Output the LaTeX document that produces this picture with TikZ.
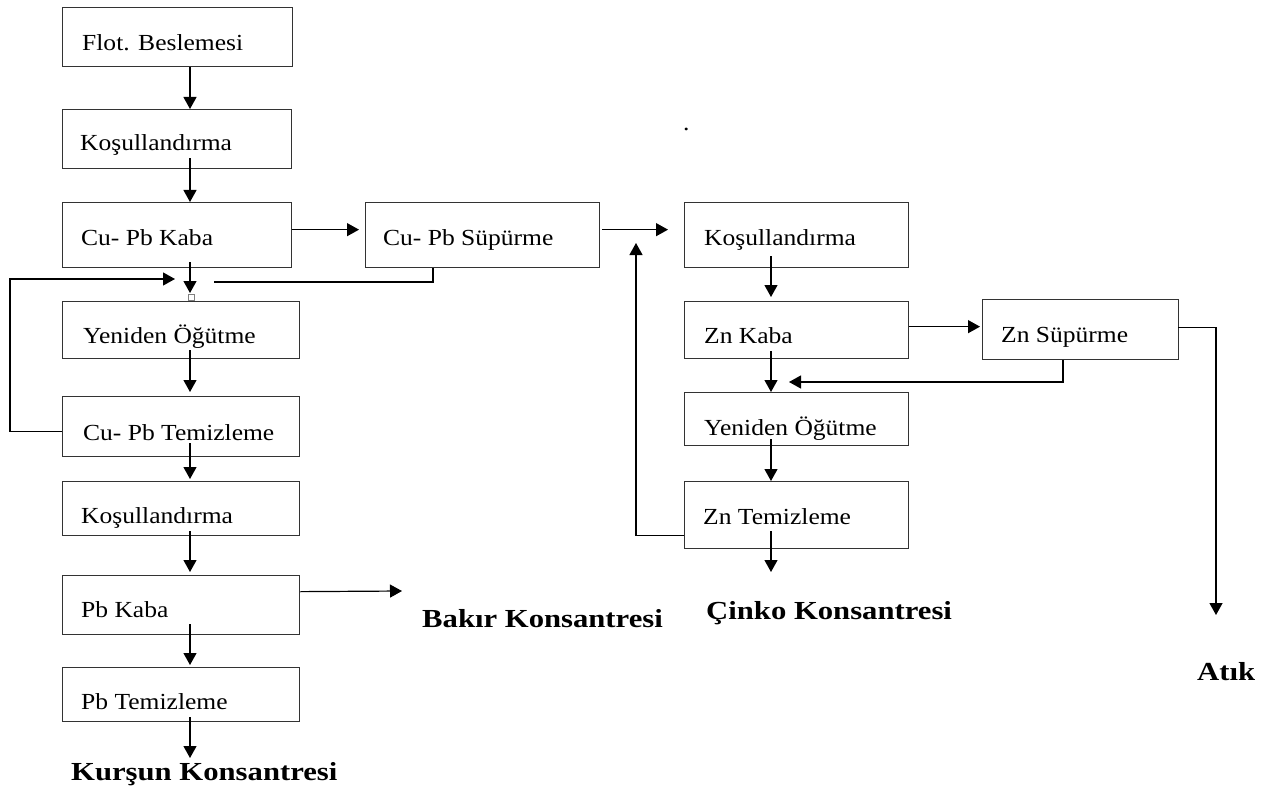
\documentclass[tikz,border=0pt]{standalone}
\usepackage{fontspec}
\setmainfont{Liberation Serif}[FakeStretch=1.11]
\newfontfamily\boldlbl{Liberation Serif}[FakeStretch=1.18]
\usetikzlibrary{arrows.meta,calc}
\begin{document}
\begin{tikzpicture}[x=1pt,y=-1pt,
  pbox/.style={draw=black!80,line width=1.3pt,inner sep=0pt,anchor=north west},
  lbl/.style={anchor=base west,inner sep=0pt,font=\fontsize{23}{26}\selectfont},
  blbl/.style={anchor=base west,inner sep=0pt,font=\boldlbl\bfseries\fontsize{26}{29}\selectfont},
  arr/.style={line width=1.2pt,-{Triangle[length=12pt,width=13pt]}},
  ln/.style={line width=1.2pt},
  sq/.style={draw=gray,fill=white,line width=0.8pt,minimum size=6pt,inner sep=0pt}]
\useasboundingbox (0,0) rectangle (1275,789);
% column guides
\coordinate (L) at (190,0);
\coordinate (R) at (771,0);
% left column boxes
\node[pbox,minimum width=230pt,minimum height=59pt] (flot) at (62,7) {};
\node[pbox,minimum width=229pt,minimum height=59pt] (kos1) at (62,109) {};
\node[pbox,minimum width=229pt,minimum height=65pt] (cpk) at (62,202) {};
\node[pbox,minimum width=234pt,minimum height=65pt] (cps) at (365,202) {};
\node[pbox,minimum width=237pt,minimum height=57pt] (yo1) at (62,301) {};
\node[pbox,minimum width=237pt,minimum height=60pt] (cpt) at (62,396) {};
\node[pbox,minimum width=237pt,minimum height=54pt] (kos2) at (62,481) {};
\node[pbox,minimum width=237pt,minimum height=59pt] (pbk) at (62,575) {};
\node[pbox,minimum width=237pt,minimum height=54pt] (pbt) at (62,667) {};
% right column boxes
\node[pbox,minimum width=224pt,minimum height=65pt] (kosR) at (684,202) {};
\node[pbox,minimum width=224pt,minimum height=57pt] (znk) at (684,301) {};
\node[pbox,minimum width=196pt,minimum height=60pt] (zns) at (982,299) {};
\node[pbox,minimum width=224pt,minimum height=53pt] (yo2) at (684,392) {};
\node[pbox,minimum width=224pt,minimum height=67pt] (znt) at (684,481) {};
% labels
\node[lbl] (flott) at (82,51) {Flot. Beslemesi};
\node[lbl] (kos1t) at (80,151) {Koşullandırma};
\node[lbl] (cpkt) at (81,245) {Cu- Pb Kaba};
\node[lbl] (cpst) at (383,245) {Cu- Pb Süpürme};
\node[lbl] (yo1t) at (83,343) {Yeniden Öğütme};
\node[lbl] (cptt) at (83,440) {Cu- Pb Temizleme};
\node[lbl] (kos2t) at (81,523) {Koşullandırma};
\node[lbl] (pbkt) at (81,617) {Pb Kaba};
\node[lbl] (pbtt) at (81,709) {Pb Temizleme};
\node[lbl] (kosRt) at (704,245) {Koşullandırma};
\node[lbl] (znkt) at (704,343) {Zn Kaba};
\node[lbl] (znst) at (1001,342) {Zn Süpürme};
\node[lbl] (yo2t) at (704,435) {Yeniden Öğütme};
\node[lbl] (zntt) at (703,524) {Zn Temizleme};
\node[lbl] (dot) at (683,131) {.};
\node[blbl] (kur) at (71,780) {Kurşun Konsantresi};
\node[blbl] (bak) at (422,627) {Bakır Konsantresi};
\node[blbl] (cin) at (706,619) {Çinko Konsantresi};
\node[blbl] (atik) at (1197,680) {Atık};
% free ends
\coordinate (m1) at (214,282);
\coordinate (lk) at (10,279);
\coordinate (m2) at (175,279);
\coordinate (bakin) at (402,591);
\coordinate (kurin) at (190,758);
\coordinate (upin) at (636,243);
\coordinate (zret) at (789,382);
\coordinate (atin) at (1216,615);
\coordinate (cinin) at (771,572);
% left connectors
\draw[arr] (L |- flot.south) -- (L |- kos1.north);
\draw[arr] ($(L |- kos1.south)+(0,-11)$) -- (L |- cpk.north);
\draw[arr] ($(L |- cpk.south)+(0,-6)$) -- ($(L |- yo1.north)+(0,-8)$);
\node[sq] (sqr) at ($(L |- yo1.north)+(1,-4)$) {};
\draw[arr] ($(cpk.east)+(0,-5.5)$) -- ($(cps.west)+(-6,-5.5)$);
\draw[ln] ($(cps.south west)+(68,0)$) |- (m1);
\draw[arr] ($(cpt.west)+(0,5)$) -| (lk) -- (m2);
\draw[arr] ($(L |- yo1.south)+(0,-9)$) -- ($(L |- cpt.north)+(0,-4)$);
\draw[arr] ($(L |- cpt.south)+(0,-14)$) -- ($(L |- kos2.north)+(0,-2)$);
\draw[arr] ($(L |- kos2.south)+(0,-5)$) -- ($(L |- pbk.north)+(0,-3)$);
\draw[arr] ($(pbk.east)+(0,-13.5)$) -- (bakin);
\draw[arr] ($(L |- pbk.south)+(0,-11)$) -- ($(L |- pbt.north)+(0,-2)$);
\draw[arr] ($(L |- pbt.south)+(0,-5)$) -- (kurin);
% right connectors
\draw[arr] ($(cps.east)+(2,-5.5)$) -- ($(kosR.west)+(-16,-5.5)$);
\draw[arr] ($(znt.west)+(0,20.5)$) -| (upin);
\draw[arr] ($(R |- kosR.south)+(0,-12)$) -- ($(R |- znk.north)+(0,-4)$);
\draw[arr] ($(znk.east)+(0,-3.5)$) -- ($(zns.west)+(-2,-3)$);
\draw[arr] ($(R |- znk.south)+(0,-8)$) -- (R |- yo2.north);
\draw[arr] ($(zns.south west)+(81,0)$) |- (zret);
\draw[arr] ($(zns.east)+(-1,-2)$) -| (atin);
\draw[arr] ($(R |- yo2.south)+(0,-7)$) -- (R |- znt.north);
\draw[arr] ($(R |- znt.south)+(0,-18)$) -- (cinin);
\end{tikzpicture}
\end{document}
